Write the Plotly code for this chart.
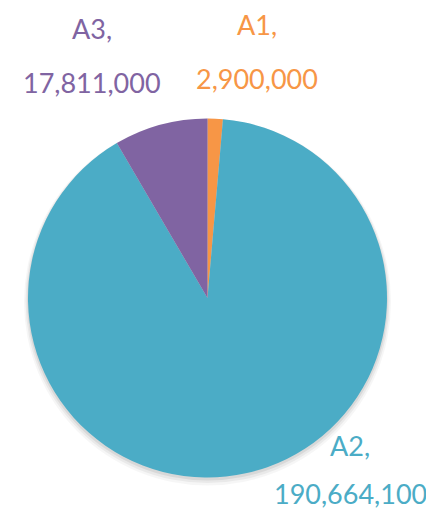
import plotly.graph_objects as go

# data
labels = ["A1", "A2", "A3"]
values = [2900000, 190664100, 17811000]
colors = ["#F79646", "#4BACC6", "#8064A2"]

# label placement in screen pixels: center x, name line y, value line y
label_px = [257, 350, 92]
name_py = [25, 445, 29]
value_py = [79, 493, 83]

# the page body has an 8px margin, so the figure is shrunk and offset
OFF = 8
W, H = 434 - 2 * OFF, 518 - 2 * OFF
# pie box in screen pixels
cx, cy, r = 207.5, 298, 179.5


def px(x):
    return (x - OFF) / W


def py(y):
    return 1 - (y - OFF) / H


def dom(dy=0, grow=0):
    return dict(
        x=[px(cx - r - grow), px(cx + r + grow)],
        y=[py(cy + r + grow + dy), py(cy - r - grow + dy)],
    )


fig = go.Figure()

# soft drop shadow under the pie
for grow, dy, alpha in [(4, 4, 0.035), (2.5, 3, 0.05), (1, 2, 0.07)]:
    fig.add_trace(go.Pie(
        values=[sum(values)],
        marker=dict(colors=[f"rgba(0,0,0,{alpha})"], line=dict(width=0)),
        textinfo="none", hoverinfo="skip", showlegend=False,
        domain=dom(dy, grow),
    ))

fig.add_trace(go.Pie(
    labels=labels,
    values=values,
    sort=False,
    direction="clockwise",
    rotation=0,
    marker=dict(colors=colors, line=dict(width=0)),
    textinfo="none",
    showlegend=False,
    domain=dom(),
))

fnt = "Lato, 'Open Sans', sans-serif"
for i, lab in enumerate(labels):
    fig.add_annotation(x=px(label_px[i]), y=py(name_py[i]), xref="paper", yref="paper",
                       text=lab + ",", showarrow=False, xanchor="center", yanchor="middle",
                       font=dict(family=fnt, size=27, color=colors[i]))
    fig.add_annotation(x=px(label_px[i]), y=py(value_py[i]), xref="paper", yref="paper",
                       text=f"{values[i]:,}", showarrow=False, xanchor="center", yanchor="middle",
                       font=dict(family=fnt, size=27, color=colors[i]))

fig.update_layout(
    width=W, height=H,
    margin=dict(l=0, r=0, t=0, b=0),
    paper_bgcolor="white",
    plot_bgcolor="white",
)

fig.write_html("out.html")
